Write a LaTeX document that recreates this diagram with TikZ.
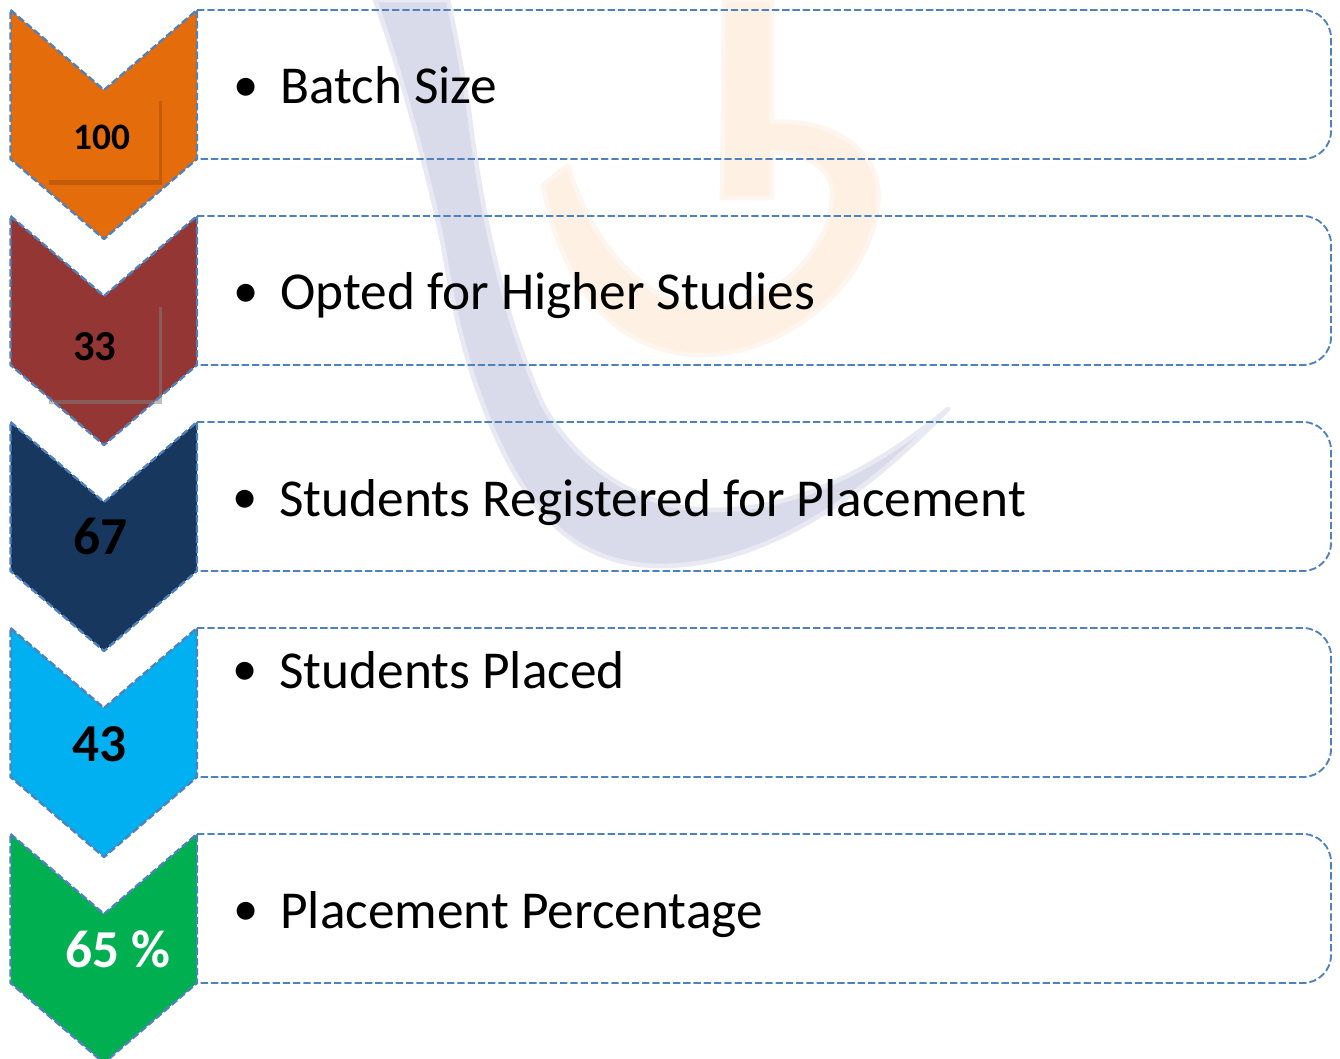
\documentclass[tikz,border=0pt]{standalone}
\usepackage{fontspec}
\setmainfont{Carlito}
\definecolor{lineblue}{HTML}{4F81BD}
\definecolor{markblue}{HTML}{D9DBEA}
\definecolor{markorange}{HTML}{FEF0E2}
\definecolor{corange}{HTML}{E46C0A}
\definecolor{cmaroon}{HTML}{943634}
\definecolor{cnavy}{HTML}{17375E}
\definecolor{ccyan}{HTML}{00B0F0}
\definecolor{cgreen}{HTML}{00B050}
\newcommand{\bul}{\makebox[33pt][l]{\hspace*{-2.4pt}\raisebox{2pt}{\fontsize{38}{38}\selectfont•}}}

\begin{document}
\begin{tikzpicture}[x=0.75pt,y=-0.75pt,
    chev/.style={draw=lineblue,line width=1.8pt,dash pattern=on 5.5pt off 2.2pt,line join=round},
    rbox/.style={draw=lineblue,line width=1.4pt,dash pattern=on 5.5pt off 2.2pt,rounded corners=21pt},
    lbl/.style={anchor=base west,inner sep=0pt,font=\fontsize{40}{40}\selectfont},
    num/.style={anchor=base west,inner sep=0pt,font=\fontsize{#1}{#1}\selectfont\bfseries}]
    \useasboundingbox (0,0) rectangle (1340,1059);

    % watermark
    \fill[markblue,draw=markblue!60,line width=3.5pt,line join=round] (375,0) .. controls (400,70) and (425,160) .. (443,245)
        .. controls (455,320) and (470,380) .. (500,445)
        .. controls (540,530) and (590,565) .. (660,566)
        .. controls (770,566) and (870,490) .. (948,409)
        .. controls (880,465) and (800,510) .. (714,510)
        .. controls (640,510) and (575,465) .. (542,403)
        .. controls (510,330) and (485,240) .. (469,111)
        .. controls (462,70) and (455,30) .. (448,0) -- cycle;
    \fill[markorange,draw=markorange!60,line width=3.5pt,line join=round] (724,0) -- (772,0) -- (772,122)
        .. controls (830,118) and (885,150) .. (878,205)
        .. controls (868,290) and (780,358) .. (695,355)
        .. controls (610,350) and (560,280) .. (543,185)
        -- (568,165) .. controls (590,240) and (640,300) .. (700,308)
        .. controls (770,312) and (835,250) .. (832,190)
        .. controls (830,165) and (800,152) .. (772,152)
        -- (772,198) -- (722,198) -- cycle;

    \foreach \y/\col in {0/corange,206/cmaroon,412/cnavy,618/ccyan,824/cgreen} {
        \draw[rbox] (197,10+\y) -- (1331,10+\y) -- (1331,159+\y) -- (197,159+\y);
        \draw[chev,fill=\col] (10.5,10+\y) -- (104,90+\y) -- (197,10+\y) -- (197,159+\y)
            -- (104,239+\y) -- (10.5,159+\y) -- cycle;
    }

    % marks left on the first two chevrons
    \draw[line width=1.7pt,color=black!15!corange] (160.5,101) -- (160.5,182);
    \draw[line width=3.2pt,color=black!15!corange] (49,182.5) -- (162,182.5);
    \draw[line width=1.7pt,color=gray,opacity=.5] (160.5,307) -- (160.5,400);
    \draw[line width=3.4pt,color=gray,opacity=.5] (49,402) -- (162,402);

    \node[num=28] (n1) at (73,150) {100};
    \node[num=32] (n2) at (73,361) {33};
    \node[num=40] (n3) at (73,554) {67};
    \node[num=40] (n4) at (72,761) {43};
    \node[num=40,text=white] (n5) at (65,967) {65 \%};

    \node[lbl] (t1) at (236,104) {\bul Batch Size};
    \node[lbl] (t2) at (236,310) {\bul Opted for Higher Studies};
    \node[lbl] (t3) at (235,516) {\bul Students Registered for Placement};
    \node[lbl] (t4) at (235,688) {\bul Students Placed};
    \node[lbl] (t5) at (236,928) {\bul Placement Percentage};
\end{tikzpicture}
\end{document}
